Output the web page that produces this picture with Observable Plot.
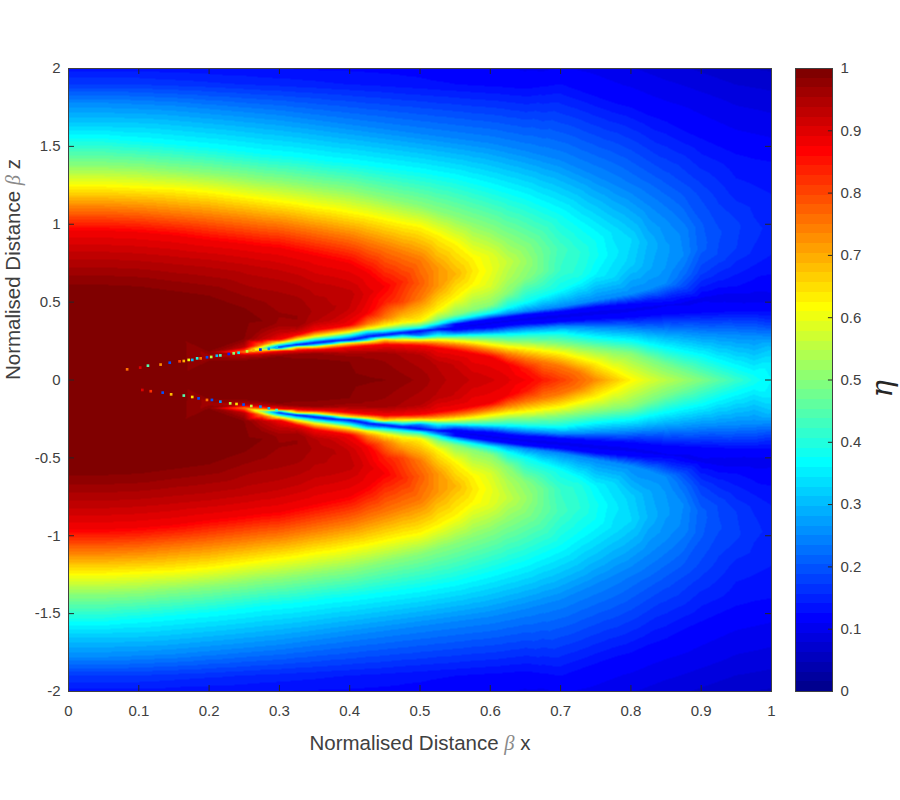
<!DOCTYPE html>
<html>
<head>
<meta charset="utf-8">
<script src="https://cdn.jsdelivr.net/npm/d3@7"></script>
<script src="https://cdn.jsdelivr.net/npm/@observablehq/plot@0.6"></script>
<style>
html,body{margin:0;padding:0;background:#fff}
#chart{position:relative;width:900px;height:800px}
#chart svg{position:absolute;left:0;top:0;background:transparent;overflow:visible}
</style>
</head>
<body>
<div id="chart"></div>
<script>
// Readings of eta along vertical lines of the upper half: each pair is [z, eta].
const col000 = [[2,.135],[1.9,.17],[1.78,.25],[1.66,.31],[1.55,.375],[1.38,.5],[1.24,.625],[1.10,.75],[.96,.875],[.80,.93],[.62,.984],[.3,.998],[0,1]];
const col005 = [[2,.135],[1.9,.17],[1.78,.25],[1.66,.31],[1.55,.375],[1.38,.5],[1.24,.625],[1.10,.75],[.96,.875],[.80,.93],[.62,.984],[.3,.998],[0,1]];
const col010 = [[2,.135],[1.9,.17],[1.77,.25],[1.53,.375],[1.37,.5],[1.23,.625],[1.09,.75],[.95,.875],[.79,.93],[.61,.984],[.3,.998],[0,1]];
const col015 = [[2,.132],[1.9,.165],[1.76,.25],[1.51,.375],[1.35,.5],[1.22,.625],[1.07,.75],[.93,.875],[.77,.93],[.58,.984],[.3,.997],[0,1]];
const col020 = [[2,.13],[1.9,.16],[1.74,.25],[1.49,.375],[1.33,.5],[1.20,.625],[1.05,.75],[.90,.875],[.75,.93],[.55,.984],[.3,.995],[.18,.984],[.15,.96],[.125,.984],[0,1]];
const col025 = [[2,.128],[1.9,.155],[1.72,.25],[1.465,.375],[1.305,.5],[1.17,.625],[1.025,.75],[.875,.875],[.72,.93],[.47,.984],[.38,.99],[.26,.984],[.21,.93],[.18,.75],[.16,.93],[.13,.984],[0,1]];
const col0275 = [[2,.126],[1.9,.152],[1.71,.25],[1.45,.375],[1.29,.5],[1.155,.625],[1.01,.75],[.86,.875],[.70,.93],[.50,.97],[.38,.985],[.33,.97],[.26,.93],[.225,.75],[.2,.5],[.185,.75],[.165,.93],[.14,.984],[0,1]];
const col030 = [[2,.125],[1.9,.15],[1.70,.25],[1.44,.375],[1.28,.5],[1.14,.625],[1.0,.75],[.85,.875],[.68,.93],[.53,.96],[.42,.97],[.36,.965],[.30,.92],[.26,.875],[.24,.625],[.225,.375],[.21,.15],[.2,.375],[.195,.625],[.185,.875],[.155,.984],[0,1]];
const col0325 = [[2,.124],[1.9,.147],[1.685,.25],[1.43,.375],[1.265,.5],[1.125,.625],[.98,.75],[.825,.875],[.65,.93],[.5,.96],[.4,.97],[.35,.965],[.32,.93],[.29,.875],[.26,.625],[.225,.13],[.21,.625],[.19,.875],[.165,.975],[.14,.984],[0,1]];
const col035 = [[2,.123],[1.9,.145],[1.67,.25],[1.415,.375],[1.25,.5],[1.105,.625],[.96,.75],[.80,.875],[.60,.93],[.45,.95],[.38,.94],[.32,.875],[.28,.625],[.258,.375],[.238,.13],[.222,.375],[.212,.625],[.195,.875],[.17,.97],[.14,.984],[0,1]];
const col0375 = [[2,.1225],[1.9,.142],[1.655,.25],[1.40,.375],[1.235,.5],[1.09,.625],[.94,.75],[.775,.875],[.58,.93],[.45,.94],[.38,.92],[.335,.875],[.295,.625],[.27,.375],[.25,.13],[.232,.375],[.225,.625],[.2,.875],[.17,.965],[.13,.984],[0,1]];
const col040 = [[2,.122],[1.9,.14],[1.64,.25],[1.39,.375],[1.22,.5],[1.07,.625],[.92,.75],[.75,.875],[.55,.93],[.45,.92],[.353,.875],[.33,.75],[.31,.625],[.285,.375],[.257,.13],[.245,.375],[.237,.625],[.21,.875],[.17,.96],[.12,.984],[0,.99]];
const col0425 = [[2,.121],[1.9,.137],[1.625,.25],[1.375,.375],[1.195,.5],[1.05,.625],[.885,.75],[.69,.875],[.55,.9],[.43,.875],[.36,.75],[.33,.625],[.31,.375],[.278,.13],[.255,.375],[.245,.625],[.22,.875],[.17,.96],[.11,.975],[0,.987]];
const col045 = [[2,.12],[1.9,.135],[1.61,.25],[1.36,.375],[1.17,.5],[1.025,.625],[.85,.75],[.6,.875],[.5,.84],[.4,.75],[.35,.625],[.33,.5],[.315,.375],[.29,.13],[.272,.375],[.262,.625],[.228,.875],[.17,.96],[.11,.97],[0,.985]];
const col0475 = [[2,.119],[1.9,.132],[1.595,.25],[1.345,.375],[1.145,.5],[1.0,.625],[.81,.75],[.63,.83],[.5,.8],[.42,.7],[.37,.625],[.345,.5],[.325,.375],[.303,.13],[.28,.375],[.257,.625],[.225,.875],[.165,.95],[.1,.96],[0,.975]];
const col050 = [[2,.118],[1.9,.13],[1.58,.25],[1.33,.375],[1.12,.5],[.98,.625],[.77,.75],[.62,.78],[.52,.75],[.38,.625],[.355,.5],[.335,.375],[.315,.12],[.285,.25],[.275,.375],[.265,.5],[.255,.625],[.24,.75],[.22,.875],[.16,.94],[0,.965]];
const col0525 = [[2,.116],[1.9,.127],[1.565,.25],[1.31,.375],[1.085,.5],[.93,.625],[.72,.72],[.6,.72],[.45,.625],[.39,.5],[.36,.375],[.345,.25],[.325,.12],[.31,.25],[.285,.375],[.27,.5],[.257,.625],[.235,.75],[.205,.875],[.1,.935],[0,.945]];
const col055 = [[2,.115],[1.9,.125],[1.55,.25],[1.29,.375],[1.05,.5],[.87,.625],[.68,.69],[.53,.625],[.42,.5],[.39,.375],[.37,.25],[.36,.125],[.335,.11],[.32,.125],[.30,.25],[.285,.375],[.27,.5],[.25,.625],[.225,.75],[.19,.875],[.1,.92],[0,.93]];
const col0575 = [[2,.113],[1.9,.122],[1.535,.25],[1.26,.375],[1.01,.5],[.78,.625],[.70,.64],[.62,.625],[.45,.5],[.41,.375],[.39,.25],[.375,.125],[.35,.105],[.33,.125],[.305,.25],[.288,.375],[.265,.5],[.24,.625],[.21,.75],[.17,.875],[0,.92]];
const col060 = [[2,.112],[1.9,.12],[1.52,.25],[1.23,.375],[.97,.5],[.80,.59],[.7,.6],[.6,.58],[.48,.5],[.43,.375],[.41,.25],[.39,.125],[.365,.105],[.335,.125],[.31,.25],[.29,.375],[.26,.5],[.225,.625],[.19,.75],[.15,.875],[0,.91]];
const col0625 = [[2,.11],[1.9,.118],[1.495,.25],[1.195,.375],[.91,.5],[.76,.56],[.66,.54],[.56,.5],[.465,.375],[.425,.25],[.405,.125],[.378,.105],[.35,.125],[.32,.25],[.292,.375],[.25,.5],[.21,.625],[.165,.75],[.1,.875],[0,.895]];
const col065 = [[2,.108],[1.9,.115],[1.47,.25],[1.16,.375],[.85,.5],[.76,.52],[.66,.5],[.5,.375],[.44,.25],[.42,.125],[.39,.105],[.36,.125],[.33,.25],[.295,.375],[.245,.5],[.2,.625],[.14,.75],[.07,.85],[0,.875]];
const col0675 = [[2,.107],[1.9,.12],[1.44,.25],[1.11,.375],[.80,.47],[.7,.47],[.60,.42],[.54,.375],[.455,.25],[.43,.125],[.40,.103],[.365,.125],[.337,.25],[.298,.375],[.24,.5],[.185,.625],[.115,.75],[0,.845]];
const col070 = [[2,.11],[1.9,.125],[1.41,.25],[1.06,.375],[.85,.43],[.7,.42],[.58,.375],[.47,.25],[.44,.125],[.41,.103],[.375,.125],[.345,.25],[.30,.375],[.23,.5],[.17,.625],[.09,.75],[0,.81]];
const col0725 = [[2,.108],[1.86,.125],[1.36,.25],[.98,.375],[.82,.41],[.68,.4],[.63,.375],[.49,.25],[.455,.125],[.42,.103],[.382,.125],[.343,.25],[.285,.375],[.215,.5],[.14,.625],[.05,.75],[0,.77]];
const col075 = [[2,.105],[1.82,.125],[1.31,.25],[.89,.375],[.8,.38],[.68,.36],[.51,.25],[.47,.125],[.43,.103],[.39,.125],[.34,.25],[.27,.375],[.2,.5],[.11,.625],[0,.73]];
const col0775 = [[2,.1],[1.78,.125],[1.255,.25],[.95,.34],[.8,.35],[.66,.33],[.53,.25],[.48,.125],[.44,.103],[.395,.125],[.335,.25],[.26,.375],[.185,.5],[.06,.625],[0,.675]];
const col080 = [[2,.095],[1.75,.125],[1.20,.25],[.9,.33],[.75,.32],[.55,.25],[.49,.125],[.45,.105],[.40,.125],[.33,.25],[.25,.375],[.17,.5],[0,.625]];
const col0825 = [[2,.09],[1.7,.125],[1.12,.25],[.88,.295],[.72,.285],[.58,.25],[.505,.13],[.465,.105],[.41,.125],[.322,.25],[.225,.375],[.135,.49],[0,.585]];
const col085 = [[2,.085],[1.66,.125],[1.3,.195],[1.03,.25],[.85,.27],[.72,.265],[.62,.25],[.52,.14],[.48,.108],[.42,.125],[.315,.25],[.2,.375],[.1,.48],[0,.55]];
const col0875 = [[2,.08],[1.6,.125],[1.2,.2],[.95,.245],[.8,.25],[.68,.225],[.6,.19],[.52,.12],[.49,.105],[.425,.125],[.31,.25],[.175,.375],[.06,.48],[0,.52]];
const col090 = [[2,.075],[1.8,.1],[1.55,.125],[1.3,.165],[1.0,.205],[.85,.21],[.7,.18],[.62,.15],[.52,.105],[.43,.125],[.3,.25],[.15,.375],[0,.49]];
const col0925 = [[2,.07],[1.8,.095],[1.5,.125],[1.2,.165],[.95,.19],[.8,.185],[.65,.145],[.53,.102],[.435,.125],[.295,.25],[.11,.375],[0,.455]];
const col095 = [[2,.065],[1.8,.09],[1.45,.125],[1.2,.15],[1.0,.175],[.85,.172],[.7,.145],[.6,.125],[.53,.1],[.44,.125],[.29,.25],[.07,.375],[0,.42]];
const col0975 = [[2,.062],[1.8,.088],[1.42,.125],[1.15,.15],[.95,.162],[.8,.152],[.62,.12],[.53,.102],[.445,.122],[.285,.25],[.03,.375],[0,.385]];
const col100 = [[2,.06],[1.8,.085],[1.6,.105],[1.4,.125],[1.2,.14],[1.0,.15],[.8,.14],[.6,.115],[.53,.105],[.45,.12],[.38,.16],[.28,.25],[.2,.31],[.1,.35],[0,.36]];

const columnX = [0,.05,.1,.15,.2,.25,.275,.3,.325,.35,.375,.4,.425,.45,.475,.5,.525,.55,.575,.6,.625,.65,.675,.7,.725,.75,.775,.8,.825,.85,.875,.9,.925,.95,.975,1];
const columns = [col000,col005,col010,col015,col020,col025,col0275,col030,col0325,col035,col0375,col040,col0425,col045,col0475,col050,col0525,col055,col0575,col060,col0625,col065,col0675,col070,col0725,col075,col0775,col080,col0825,col085,col0875,col090,col0925,col095,col0975,col100];

// Noisy beads along the two nulls near their start: [x, z, eta].
const beadsUpper = [[.0834,.0685,.75],[.102,.0795,.9],[.113,.092,.45],[.131,.099,.72],[.144,.111,.2],[.158,.12,.8],[.164,.122,.7],[.171,.129,.6],[.176,.129,.3],[.183,.139,.4],[.188,.139,.75],[.197,.146,.2],[.203,.148,.55],[.211,.156,.3],[.216,.158,.45],[.228,.167,.15],[.235,.171,.5],[.242,.175,.35],[.254,.184,.55],[.263,.19,.7],[.273,.195,.15],[.285,.2,.25],[.296,.21,.3]];
const beadsLower = [[.105,-.064,.9],[.117,-.072,.82],[.134,-.081,.2],[.146,-.092,.68],[.164,-.1,.45],[.176,-.109,.65],[.185,-.118,.2],[.197,-.128,.75],[.204,-.128,.2],[.216,-.139,.25],[.23,-.15,.55],[.239,-.154,.65],[.249,-.158,.2],[.26,-.167,.55],[.273,-.171,.25],[.285,-.182,.3],[.296,-.193,.4]];

const xTicks = [0,.1,.2,.3,.4,.5,.6,.7,.8,.9,1];
const zTicks = [-2,-1.5,-1,-.5,0,.5,1,1.5,2];
const barTicks = [0,.1,.2,.3,.4,.5,.6,.7,.8,.9,1];
const xLabel = "Normalised Distance β x";
const zLabel = "Normalised Distance β z";
const barLabel = "η";

const jetStops = [0,.111,.365,.619,.873,1];
const jetColors = ["#00008f","#0000ff","#00ffff","#ffff00","#ff0000","#800000"];
const levelCount = 64;

const jet = d3.scaleLinear().domain(jetStops).range(jetColors);
const jet64 = d3.range(levelCount).map(i => jet(i / (levelCount - 1)));
const levels = d3.range(levelCount).map(i => i / levelCount);
const color = {type:"threshold", domain:levels.slice(1), range:jet64};

const table = columns.flatMap((col, i) => col.flatMap(([z, eta]) => {
  const p = {x:columnX[i], z, eta};
  return z === 0 ? [p] : [p, {x:columnX[i], z:-z, eta}];
}));
const beads = [...beadsUpper, ...beadsLower].map(([x, z, eta]) => ({x, z, eta}));

const ink = "#404040";
const tickInk = "#262626";
const font = "'Liberation Sans', Arial, sans-serif";
const plain = d => String(d);
// Tick lengths in data units: about 6 px on the main axes, 4 px on the colour bar.
const tickX = .0085, tickZ = .0385, tickBar = .11;

const main = Plot.plot({
  width:900, height:800,
  marginLeft:68, marginRight:129, marginTop:68, marginBottom:109,
  style:{fontFamily:font, fontSize:"15px", color:ink, background:"transparent"},
  x:{domain:[0,1], label:null},
  y:{domain:[-2,2], label:null},
  color,
  marks:[
    Plot.raster(table, {x:"x", y:"z", fill:"eta", interpolate:"barycentric", pixelSize:1,
      x1:0, x2:1, y1:-2, y2:2}),
    Plot.dot(beads, {x:"x", y:"z", fill:"eta", r:1.5, symbol:"square"}),
    // Tick labels
    Plot.axisX({anchor:"bottom", ticks:xTicks, tickSize:0, tickPadding:14, tickFormat:plain, fontSize:15, label:null}),
    Plot.axisY({anchor:"left", ticks:zTicks, tickSize:0, tickPadding:8, tickFormat:plain, fontSize:15, label:null}),
    // Inward tick marks on all four sides
    Plot.ruleX(xTicks, {y1:-2, y2:-2 + tickZ, stroke:tickInk}),
    Plot.ruleX(xTicks, {y1:2 - tickZ, y2:2, stroke:tickInk}),
    Plot.ruleY(zTicks, {x1:0, x2:tickX, stroke:tickInk}),
    Plot.ruleY(zTicks, {x1:1 - tickX, x2:1, stroke:tickInk}),
    Plot.frame({stroke:ink}),
    Plot.text([xLabel], {frameAnchor:"bottom", dy:58, fontSize:20.5, fill:ink}),
    Plot.text([zLabel], {frameAnchor:"left", dx:-55, rotate:-90, fontSize:20.5, fill:ink})
  ]
});

const bar = Plot.plot({
  width:900, height:800,
  marginLeft:795, marginRight:68, marginTop:68, marginBottom:109,
  style:{fontFamily:font, fontSize:"15px", color:ink, background:"transparent"},
  x:{domain:[0,1], axis:null},
  y:{domain:[0,1], label:null},
  color,
  marks:[
    Plot.rect(levels, {x1:0, x2:1, y1:d=>d, y2:d=>d + 1/levelCount, fill:d=>d + 1/(2*levelCount), shapeRendering:"crispEdges"}),
    Plot.axisY({anchor:"right", ticks:barTicks, tickSize:0, tickPadding:8, tickFormat:plain, fontSize:15, label:null}),
    Plot.ruleY(barTicks, {x1:1 - tickBar, x2:1, stroke:tickInk}),
    Plot.frame({stroke:ink}),
    Plot.text([barLabel], {frameAnchor:"right", dx:50, rotate:-90, fontSize:29, fontStyle:"italic", fontFamily:"'DejaVu Serif', serif", fill:"#262626"})
  ]
});

document.getElementById("chart").append(main, bar);

// Set the beta in the axis titles in an italic serif, as in the original.
d3.selectAll("#chart text").filter(function(){ return this.textContent.includes("β"); }).each(function(){
  const holder = this.querySelector("tspan") || this;
  const [before, after] = holder.textContent.split("β");
  const sel = d3.select(holder).text(null);
  sel.append("tspan").text(before);
  sel.append("tspan").attr("font-family","'Liberation Serif', serif").attr("font-style","italic").attr("fill","#8a8a8a").text("β");
  sel.append("tspan").text(after);
});
</script>
</body>
</html>
